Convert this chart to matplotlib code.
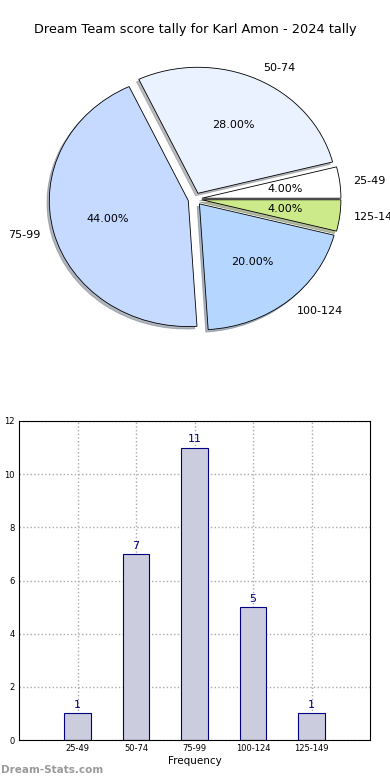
import matplotlib.pyplot as plt
import numpy as np

labels = ['25-49', '50-74', '75-99', '100-124', '125-149']
counts = [1, 7, 11, 5, 1]
pie_colors = ['#ffffff', '#eaf1ff', '#c6d9ff', '#b5d6ff', '#cdea8a']

fig = plt.figure(figsize=(3.9, 7.8), dpi=100)

# pie - stretched a little vertically squashed like the original
ax1 = fig.add_axes([0, 1 - 360 / 780, 1, 320 / 780])
rx, ry = 139.0, 126.0
cx, cy = 195.0, 199.0
ax1.pie(counts, labels=labels, colors=pie_colors, explode=[0.05] * 5,
        autopct='%1.2f%%', shadow=dict(ox=-0.012, oy=-0.014, shade=0.5),
        startangle=0,
        wedgeprops=dict(edgecolor='black', linewidth=0.6),
        textprops=dict(fontsize=8))
ax1.set_aspect('auto')
ax1.set_xlim(-cx / rx, (390 - cx) / rx)
ax1.set_ylim(-(360 - cy) / ry, (cy - 40) / ry)
ax1.axis('off')

fig.text(0.5, 1 - 30 / 780, 'Dream Team score tally for Karl Amon - 2024 tally',
         ha='center', va='center', fontsize=9.3)

# bars
ax2 = fig.add_axes([19 / 390, 1 - 740 / 780, 351 / 390, 319 / 780])
x = np.arange(1, len(labels) + 1)
ax2.bar(x, counts, width=0.45, color='#ccccdf', edgecolor='#000080', linewidth=0.8, zorder=2)
for xi, c in zip(x, counts):
    ax2.text(xi, c + 0.12, str(c), ha='center', va='bottom', color='#000080', fontsize=8)
ax2.set_xlim(0, 6)
ax2.set_ylim(0, 12)
ax2.set_xticks(x)
ax2.set_xticklabels(labels)
ax2.set_yticks(range(0, 13, 2))
ax2.tick_params(labelsize=6, length=0, pad=3)
ax2.grid(True, linestyle=':', color='#aaaaaa', linewidth=1)
ax2.set_axisbelow(True)
ax2.set_xlabel('Frequency', fontsize=7.5, labelpad=2)
ax2.set_ylabel('Score Tally Count', fontsize=7.5, labelpad=4)

fig.text(0.003, 1 - 770 / 780, 'Dream-Stats.com', color='#9a9a9a', fontsize=7.5,
         fontweight='bold', va='center', ha='left')

fig.savefig('out.png', dpi=100)
